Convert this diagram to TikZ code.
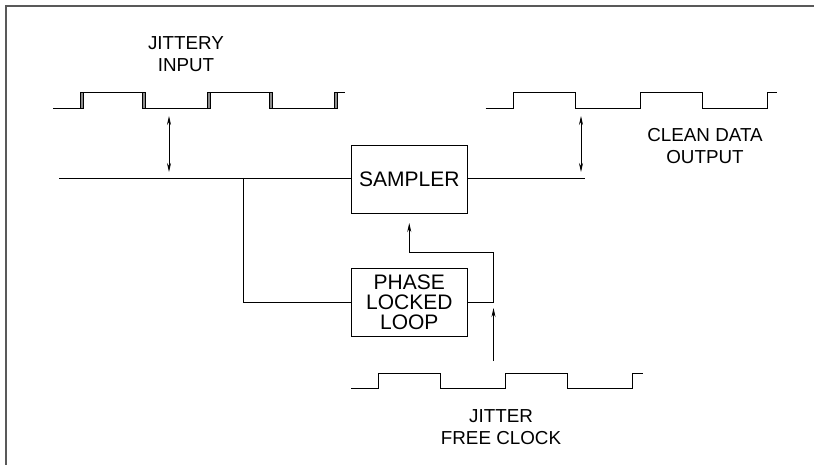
\documentclass[tikz,border=0pt]{standalone}
\usepackage{fontspec}
\setmainfont{Liberation Sans}
\usetikzlibrary{positioning, arrows.meta, calc}
\tikzset{
  block/.style={
    rectangle, draw, line width=0.8pt, minimum width=116.5pt, minimum height=68pt,
    inner sep=0pt, outer sep=0pt, align=center, font=\fontsize{21pt}{20pt}\selectfont
  },
  caption/.style={inner sep=0pt, align=center, font=\fontsize{18.8pt}{22pt}\selectfont},
  wire/.style={draw, line width=0.8pt},
  outline/.style={draw=black!65, line width=1.2pt},
  trace/.style={draw, line width=0.8pt, line join=miter},
  smear/.style={draw=black!45, line width=2.2pt},
  sig/.style={wire, -{Stealth[length=9pt,width=4pt]}},
  gap/.style={wire, {Stealth[length=9pt,width=4pt]}-{Stealth[length=9pt,width=4pt]}},
}
% one square wave from its start point, \d shifts the edges
\newcommand{\squarewave}[2]{%
  \draw[trace] (#1,#2) -- ++(27.5+\d,0) -- ++(0,-15.5) -- ++(62,0) -- ++(0,15.5)
    -- ++(65,0) -- ++(0,-15.5) -- ++(62,0) -- ++(0,15.5) -- ++(65,0) -- ++(0,-15.5) -- ++(10-\d,0);
}
\begin{document}
\begin{tikzpicture}[x=1pt, y=-1pt]
  \useasboundingbox (0,0) rectangle (814,465);

  % outer frame, open on two sides
  \coordinate (frame a) at (6,465);
  \coordinate (frame b) at (6,6);
  \coordinate (frame c) at (814,6);
  \draw[outline] (frame a) -- (frame b) -- (frame c);

  \node[block] (sampler) at (409.25,179) {SAMPLER};
  \node[block, below=55pt of sampler] (pll) {PHASE\\LOCKED\\LOOP};

  % waveforms
  \foreach \x in {82,144,209,271,336} {\draw[smear] (\x,92.5) -- (\x,108);}
  \foreach \d in {0,3} {\squarewave{53}{108}}
  \def\d{0}
  \squarewave{485.5}{108}
  \squarewave{351}{388.5}

  % labels
  \node[caption] (jittery) at (186,54) {JITTERY\\INPUT};
  \node[caption] (clean) at (705,146) {CLEAN DATA\\OUTPUT};
  \node[caption] (jitter) at (501,427) {JITTER\\FREE CLOCK};

  % signal path
  \coordinate (input) at (59,178);
  \coordinate (output) at (585,178);
  \coordinate (branch) at (243,178);
  \draw[wire] (input) -- (input -| sampler.west);
  \draw[wire] (sampler.east |- output) -- (output);
  \draw[wire] (branch) |- (pll.west);

  % clock back to the sampler
  \coordinate (clk out) at (493.5,302);
  \coordinate (clk turn) at (493.5,252.5);
  \coordinate (samp in) at ($(sampler.south)+(0,10)$);
  \draw[sig] (pll.east) -- (clk out) -- (clk turn) -| (samp in);

  % clock reference arrow
  \coordinate (ref a) at (493.5,361);
  \coordinate (ref b) at (493.5,308);
  \draw[sig] (ref a) -- (ref b);

  % time offset arrows
  \coordinate (offs a) at (169,116);
  \coordinate (offs b) at (169,172);
  \coordinate (offs c) at (581,116);
  \coordinate (offs d) at (581,172);
  \draw[gap] (offs a) -- (offs b);
  \draw[gap] (offs c) -- (offs d);
\end{tikzpicture}
\end{document}
